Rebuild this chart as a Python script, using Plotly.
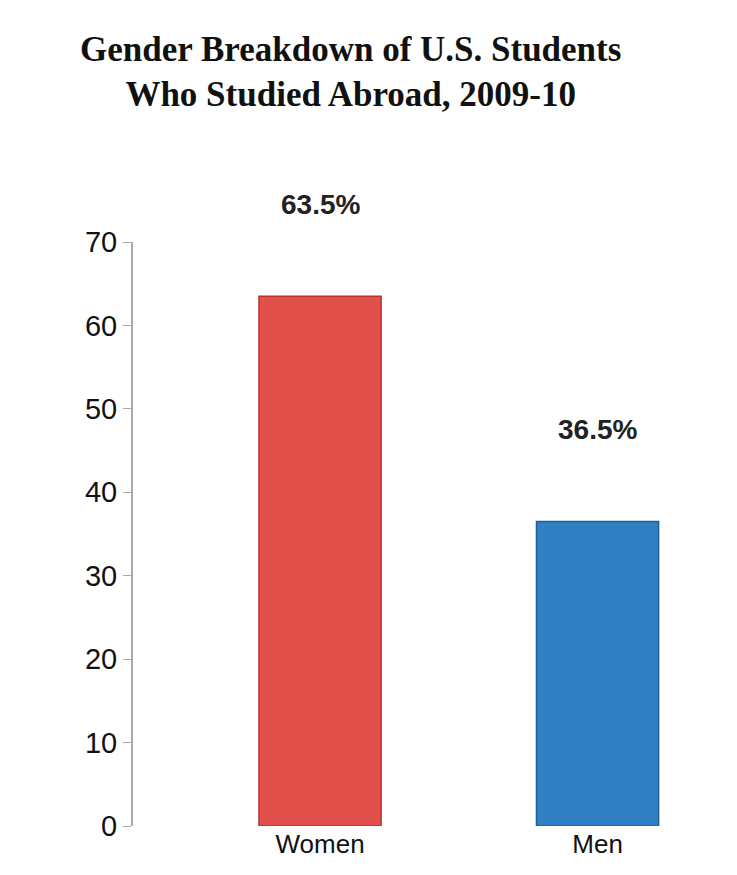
import plotly.graph_objects as go

categories = ["Women", "Men"]
values = [63.5, 36.5]
labels = ["63.5%", "36.5%"]
colors = ["#e2504b", "#2f80c3"]

fig = go.Figure()
fig.add_trace(go.Bar(x=categories, y=values, width=0.44,
                     marker=dict(color=colors, line=dict(color=["#b8332f", "#1d5f99"], width=1.5)),
                     showlegend=False))
for c, v, t in zip(categories, values, labels):
    fig.add_annotation(x=c, y=v, text="<b>" + t + "</b>", showarrow=False,
                       yshift=92, font=dict(family="Liberation Sans, Arial", size=28, color="#222"))

fig.update_layout(
    width=737, height=875,
    paper_bgcolor="white", plot_bgcolor="white",
    margin=dict(l=125, r=57, t=234, b=57),
    title=dict(text="<b>Gender Breakdown of U.S. Students<br>Who Studied Abroad, 2009-10</b>",
               x=0.465, xanchor="center", y=0.94, yanchor="top",
               font=dict(family="Liberation Serif, Times New Roman", size=35, color="#111")),
    xaxis=dict(range=[-0.674, 1.326], showline=False, ticks="",
               tickfont=dict(family="Liberation Sans, Arial", size=26, color="#111")),
    yaxis=dict(range=[0, 70], dtick=10, showgrid=False, showline=True, linecolor="#aaa",
               linewidth=2, ticks="outside", tickcolor="#aaa", ticklen=8,
               tickfont=dict(family="Liberation Sans, Arial", size=29, color="#111")),
)
fig.write_html("out.html")
